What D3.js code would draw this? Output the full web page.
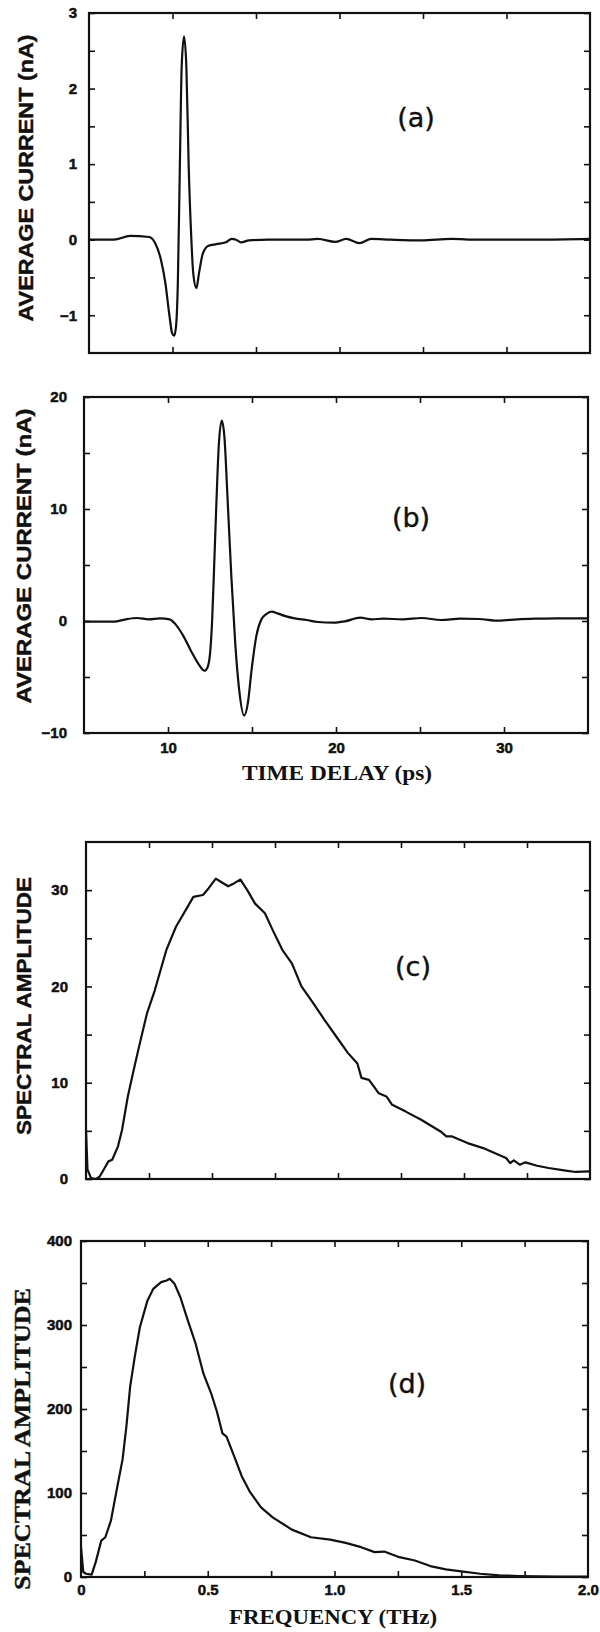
<!DOCTYPE html>
<html>
<head>
<meta charset="utf-8">
<script src="https://cdn.jsdelivr.net/npm/d3@7"></script>
<style>
  body { margin: 0; background: #fff; }
</style>
</head>
<body>
<div id="chart"></div>
<script>
//Terahertz pulses and spectra

	//panel (a) : time delay (ps) vs average current (nA)
	var timeA    = [5, 6.5, 7.46, 8.6, 8.95, 9.3, 9.57, 9.82, 9.98, 10.1, 10.21, 10.32, 10.44, 10.55, 10.69, 10.83, 10.97, 11.13, 11.24, 11.43, 11.59, 11.82, 12.16, 12.62, 13.2, 13.54, 13.8, 14.1, 14.57, 15.72, 18, 18.7, 19.74, 20.4, 21.2, 21.9, 23.06, 24.9, 26.7, 28.3, 31.8, 35];
	var currentA = [0, 0, 0.05, 0.035, -0.04, -0.26, -0.57, -1.01, -1.24, -1.27, -1.15, -0.57, 0.97, 2.29, 2.69, 2.29, 0.97, 0, -0.44, -0.64, -0.44, -0.18, -0.08, -0.06, -0.035, 0.01, 0, -0.035, -0.01, 0, 0, 0.01, -0.03, 0.01, -0.045, 0.01, 0, -0.01, 0.01, 0, 0, 0.01];

	//panel (b)
	var timeB    = [5, 6.79, 7.47, 8.16, 8.85, 9.53, 10.1, 10.45, 10.91, 11.37, 11.82, 12.17, 12.35, 12.51, 12.63, 12.74, 12.88, 13.02, 13.2, 13.36, 13.54, 13.77, 14.0, 14.23, 14.53, 14.76, 14.98, 15.26, 15.56, 15.83, 16.18, 16.52, 16.98, 17.55, 18.24, 18.93, 19.84, 20.53, 21.44, 22.13, 22.82, 23.96, 25.1, 26.25, 27.4, 28.5, 29.7, 30.8, 32, 33.1, 35];
	var currentB = [-0.06, -0.06, 0.15, 0.27, 0.15, 0.24, 0.15, -0.3, -1.33, -2.67, -3.85, -4.44, -4.15, -2.81, 0.15, 4.6, 10.5, 15.6, 17.9, 16.4, 11.1, 4.0, -1.93, -6.07, -8.44, -7.26, -4.3, -1.33, 0.15, 0.59, 0.83, 0.68, 0.44, 0.24, 0.09, -0.09, -0.15, -0.03, 0.3, 0.15, 0.21, 0.15, 0.27, 0.09, 0.21, 0.18, 0.03, 0.15, 0.21, 0.24, 0.24];

	//panel (c) : frequency (THz) vs spectral amplitude
	var freqC = [0, 0.006, 0.02, 0.04, 0.055, 0.074, 0.089, 0.104, 0.127, 0.143, 0.166, 0.189, 0.211, 0.242, 0.273, 0.296, 0.319, 0.357, 0.395, 0.426, 0.464, 0.487, 0.515, 0.533, 0.564, 0.587, 0.613, 0.64, 0.671, 0.71, 0.74, 0.779, 0.817, 0.855, 0.901, 0.947, 0.993, 1.039, 1.077, 1.093, 1.123, 1.162, 1.192, 1.215, 1.269, 1.33, 1.407, 1.43, 1.453, 1.514, 1.576, 1.637, 1.667, 1.683, 1.698, 1.721, 1.744, 1.79, 1.836, 1.897, 1.943, 2.0];
	var ampC  = [5.1, 0.97, 0.1, 0, 0.28, 1.14, 1.83, 2.0, 3.39, 5.1, 8.57, 11.3, 13.8, 17.2, 19.6, 21.7, 23.8, 26.2, 27.9, 29.3, 29.5, 30.2, 31.2, 30.9, 30.4, 30.7, 31.1, 30.0, 28.6, 27.6, 25.9, 23.8, 22.4, 20.0, 18.3, 16.5, 14.8, 13.1, 12.0, 10.5, 10.3, 8.9, 8.57, 7.7, 7.0, 6.15, 4.94, 4.42, 4.42, 3.73, 3.21, 2.52, 2.18, 1.66, 1.94, 1.49, 1.73, 1.38, 1.14, 0.9, 0.73, 0.8];

	//panel (d)
	var freqD = [0, 0.009, 0.02, 0.042, 0.058, 0.08, 0.096, 0.118, 0.141, 0.164, 0.179, 0.194, 0.212, 0.232, 0.262, 0.285, 0.316, 0.338, 0.35, 0.369, 0.392, 0.422, 0.452, 0.483, 0.513, 0.536, 0.558, 0.574, 0.604, 0.634, 0.665, 0.71, 0.756, 0.832, 0.907, 0.983, 1.044, 1.105, 1.158, 1.196, 1.256, 1.317, 1.378, 1.439, 1.5, 1.575, 1.651, 1.727, 1.803, 1.879, 2.0];
	var ampD  = [35.5, 5.9, 3.9, 2.8, 17.7, 43.3, 47.3, 67, 104, 140, 179, 227, 262, 297, 329, 343, 351, 353, 355, 349, 333, 305, 278, 242, 219, 197, 171, 167, 144, 120, 102, 82.8, 70.9, 56.4, 47.3, 44.5, 40.6, 35.5, 29.6, 30.3, 23.6, 19.7, 13.0, 9.1, 6.7, 3.9, 2.0, 1.2, 0.8, 0.4, 0.4];

	//tick values and labels
	var timeTicks   = [10, 15, 20, 25, 30];
	var timeLabels  = [10, 20, 30];
	var freqTicks   = [0.25, 0.5, 0.75, 1, 1.25, 1.5, 1.75];
	var freqLabelValues = [0, 0.5, 1, 1.5, 2];
	var freqLabels  = ["0", "0.5", "1.0", "1.5", "2.0"];
	var yTicksA  = [-1, -0.5, 0, 0.5, 1, 1.5, 2, 2.5, 3];
	var yLabelsA = [-1, 0, 1, 2, 3];
	var yTicksB  = [-10, -5, 0, 5, 10, 15, 20];
	var yLabelsB = [-10, 0, 10, 20];
	var yTicksC  = [0, 5, 10, 15, 20, 25, 30];
	var yLabelsC = [0, 10, 20, 30];
	var yTicksD  = [0, 50, 100, 150, 200, 250, 300, 350, 400];
	var yLabelsD = [0, 100, 200, 300, 400];

	//Width and height
	var w = 600;
	var h = 1632;

	var sansBold = "'Liberation Sans', Arial, sans-serif";
	var serifBold = "'Liberation Serif', 'Times New Roman', serif";
	var tagFont = "'DejaVu Sans', 'Noto Sans', sans-serif";

	var svg = d3.select("#chart")
				.append("svg")
				.attr("width", w)
				.attr("height", h);

	var panels = [
		{ x: timeA, y: currentA, xDomain: [5, 35], yDomain: [-1.5, 3], left: 89, right: 590, top: 13, bottom: 353,
		  yTicks: yTicksA, yLabels: yLabelsA, yPad: 12, xTicks: timeTicks, curve: d3.curveMonotoneX,
		  tag: "(a)", tagX: 416, tagY: 117,
		  yTitle: "AVERAGE CURRENT (nA)", yTitleFont: sansBold, yTitleSize: 20, yTitleX: 26, yTitleY: 178, yTitleLen: 287 },
		{ x: timeB, y: currentB, xDomain: [5, 35], yDomain: [-10, 20], left: 84, right: 588, top: 397, bottom: 733,
		  yTicks: yTicksB, yLabels: yLabelsB, yPad: 17, xTicks: timeTicks, curve: d3.curveMonotoneX,
		  xLabelValues: timeLabels, xLabels: timeLabels.map(String), xPad: 9,
		  xTitle: "TIME DELAY (ps)", xTitleX: 337, xTitleY: 773, xTitleLen: 190,
		  tag: "(b)", tagX: 411, tagY: 517,
		  yTitle: "AVERAGE CURRENT (nA)", yTitleFont: sansBold, yTitleSize: 20, yTitleX: 24, yTitleY: 556, yTitleLen: 295 },
		{ x: freqC, y: ampC, xDomain: [0, 2], yDomain: [0, 35], left: 86, right: 590, top: 842, bottom: 1179,
		  yTicks: yTicksC, yLabels: yLabelsC, yPad: 18, xTicks: freqTicks, curve: d3.curveLinear,
		  tag: "(c)", tagX: 413, tagY: 966,
		  yTitle: "SPECTRAL AMPLITUDE", yTitleFont: sansBold, yTitleSize: 21, yTitleX: 23, yTitleY: 1006, yTitleLen: 258 },
		{ x: freqD, y: ampD, xDomain: [0, 2], yDomain: [0, 400], left: 81, right: 588, top: 1241, bottom: 1577,
		  yTicks: yTicksD, yLabels: yLabelsD, yPad: 9, xTicks: freqTicks, curve: d3.curveLinear,
		  xLabelValues: freqLabelValues, xLabels: freqLabels, xPad: 7,
		  xTitle: "FREQUENCY (THz)", xTitleX: 333, xTitleY: 1617, xTitleLen: 208,
		  tag: "(d)", tagX: 407, tagY: 1383,
		  yTitle: "SPECTRAL AMPLITUDE", yTitleFont: serifBold, yTitleSize: 23, yTitleX: 22, yTitleY: 1439, yTitleLen: 302 }
	];

	panels.forEach(drawPanel);

function drawPanel(p) {

	var x = d3.scaleLinear().domain(p.xDomain).range([p.left, p.right]);
	var y = d3.scaleLinear().domain(p.yDomain).range([p.bottom, p.top]);

	var g = svg.append("g");

	function labelFor(d) {
		return p.yLabels.indexOf(d) >= 0 ? d3.format("d")(d) : "";
	}

	//left axis, ticks point inward
	g.append("g")
	 .attr("class", "axis")
	 .attr("transform", "translate(" + p.left + ",0)")
	 .call(d3.axisLeft(y).tickValues(p.yTicks).tickSizeInner(-6).tickSizeOuter(0).tickPadding(p.yPad).tickFormat(labelFor));

	//right axis
	g.append("g")
	 .attr("class", "axis")
	 .attr("transform", "translate(" + p.right + ",0)")
	 .call(d3.axisRight(y).tickValues(p.yTicks).tickSizeInner(-6).tickSizeOuter(0).tickFormat(""));

	//top axis
	g.append("g")
	 .attr("class", "axis")
	 .attr("transform", "translate(0," + p.top + ")")
	 .call(d3.axisTop(x).tickValues(p.xTicks).tickSizeInner(-6).tickSizeOuter(0).tickFormat(""));

	//bottom axis
	g.append("g")
	 .attr("class", "axis")
	 .attr("transform", "translate(0," + p.bottom + ")")
	 .call(d3.axisBottom(x).tickValues(p.xTicks).tickSizeInner(-6).tickSizeOuter(0).tickFormat(""));

	if (p.xLabels) {
		var xl = g.append("g")
		 .attr("class", "axis")
		 .attr("transform", "translate(0," + p.bottom + ")")
		 .call(d3.axisBottom(x).tickValues(p.xLabelValues).tickSize(0).tickPadding(p.xPad)
		 	.tickFormat(function(d, i) { return p.xLabels[i]; }));
		xl.selectAll("line").remove();
	}

	g.selectAll(".axis .domain").remove();
	g.selectAll(".axis line").attr("stroke", "#111").attr("stroke-width", 1.6);
	//heavy tick numbers, a thin stroke thickens the bold face
	g.selectAll(".axis text")
	 .attr("fill", "#111")
	 .attr("stroke", "#111")
	 .attr("stroke-width", 0.5)
	 .style("font-family", sansBold)
	 .style("font-weight", "bold")
	 .style("font-size", "15px");

	//frame
	g.append("rect")
	 .attr("x", p.left)
	 .attr("y", p.top)
	 .attr("width", p.right - p.left)
	 .attr("height", p.bottom - p.top)
	 .attr("fill", "none")
	 .attr("stroke", "#111")
	 .attr("stroke-width", 2.2);

	//the trace
	var line = d3.line()
				 .x(function(d, i) { return x(p.x[i]); })
				 .y(function(d) { return y(d); })
				 .curve(p.curve);

	g.append("path")
	 .datum(p.y)
	 .attr("d", line)
	 .attr("fill", "none")
	 .attr("stroke", "#111")
	 .attr("stroke-width", 2.2)
	 .attr("stroke-linejoin", "round");

	//panel tag
	g.append("text")
	 .attr("x", p.tagX)
	 .attr("y", p.tagY)
	 .attr("text-anchor", "middle")
	 .attr("dominant-baseline", "central")
	 .style("font-family", tagFont)
	 .style("font-size", "27px")
	 .attr("fill", "#111")
	 .attr("stroke", "#111")
	 .attr("stroke-width", 0.4)
	 .text(p.tag);

	//y title
	g.append("text")
	 .attr("transform", "translate(" + p.yTitleX + "," + p.yTitleY + ") rotate(-90)")
	 .attr("text-anchor", "middle")
	 .attr("dominant-baseline", "central")
	 .attr("textLength", p.yTitleLen)
	 .attr("lengthAdjust", "spacingAndGlyphs")
	 .style("font-family", p.yTitleFont)
	 .style("font-weight", "bold")
	 .style("font-size", p.yTitleSize + "px")
	 .attr("fill", "#111")
	 .attr("stroke", "#111")
	 .attr("stroke-width", 0.4)
	 .text(p.yTitle);

	//x title
	if (p.xTitle) {
		g.append("text")
		 .attr("x", p.xTitleX)
		 .attr("y", p.xTitleY)
		 .attr("text-anchor", "middle")
		 .attr("dominant-baseline", "central")
		 .attr("textLength", p.xTitleLen)
		 .attr("lengthAdjust", "spacingAndGlyphs")
		 .style("font-family", serifBold)
		 .style("font-weight", "bold")
		 .style("font-size", "21px")
		 .attr("fill", "#111")
		 .text(p.xTitle);
	}

}//end function: drawPanel()
</script>
</body>
</html>
